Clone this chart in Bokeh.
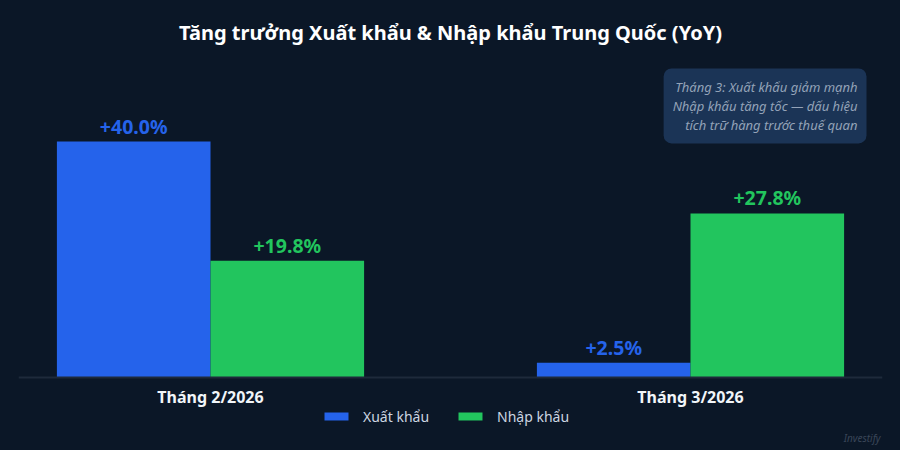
from bokeh.plotting import figure
from bokeh.models import (ColumnDataSource, Range1d, FixedTicker, Label, Legend, LegendItem)
from bokeh.core.properties import value
from bokeh.embed import file_html
from bokeh.resources import INLINE

categories = ["Tháng 2/2026", "Tháng 3/2026"]
xuat_khau = [40.0, 2.5]
nhap_khau = [19.8, 27.8]
series_names = ["Xuất khẩu", "Nhập khẩu"]
title_text = "Tăng trưởng Xuất khẩu & Nhập khẩu Trung Quốc (YoY)"
note_text = "Tháng 3: Xuất khẩu giảm mạnh\nNhập khẩu tăng tốc — dấu hiệu\ntích trữ hàng trước thuế quan"
watermark = "Investify"

BG = "#0b1727"
BLUE = "#2563eb"
GREEN = "#22c55e"
FONT = "Noto Sans"
BAR_W = 0.32

xs = list(range(len(categories)))

def fmt(v):
    return f"+{v:.1f}%"

src_x = ColumnDataSource(dict(x=[i - BAR_W / 2 for i in xs], top=xuat_khau,
                              lbl=[fmt(v) for v in xuat_khau]))
src_n = ColumnDataSource(dict(x=[i + BAR_W / 2 for i in xs], top=nhap_khau,
                              lbl=[fmt(v) for v in nhap_khau]))

p = figure(width=900, height=450, output_backend="svg", toolbar_location=None,
           x_range=Range1d(-0.4, 1.4), y_range=Range1d(-12.37, 54.07),
           background_fill_color=None, border_fill_color=None,
           min_border_left=18, min_border_right=18, min_border_top=58, min_border_bottom=0,
           outline_line_color=None)
p.outline_line_alpha = 0

p.title.text = title_text
p.title.align = "center"
p.title.text_color = "#ffffff"
p.title.text_font = FONT
p.title.text_font_size = "20px"
p.title.text_font_style = "bold"
p.title.standoff = 25

r1 = p.vbar(x="x", top="top", width=BAR_W, source=src_x, color=BLUE, line_color=None)
r2 = p.vbar(x="x", top="top", width=BAR_W, source=src_n, color=GREEN, line_color=None)

p.text(x="x", y="top", text="lbl", source=src_x, text_color=BLUE,
       text_font=value(FONT), text_font_size="19.5px", text_font_style="bold",
       text_align="center", text_baseline="bottom", y_offset=-2)
p.text(x="x", y="top", text="lbl", source=src_n, text_color=GREEN,
       text_font=value(FONT), text_font_size="19.5px", text_font_style="bold",
       text_align="center", text_baseline="bottom", y_offset=-2)

p.yaxis.visible = False
p.grid.visible = False
p.xaxis.fixed_location = 0
p.xaxis.ticker = FixedTicker(ticks=xs)
p.xaxis.major_label_overrides = {i: c for i, c in zip(xs, categories)}
p.xaxis.major_tick_line_color = None
p.xaxis.minor_tick_line_color = None
p.xaxis.axis_line_color = "#1e2a3b"
p.xaxis.axis_line_width = 2
p.xaxis.major_label_text_color = "#f1f5f9"
p.xaxis.major_label_text_font = FONT
p.xaxis.major_label_text_font_size = "16px"
p.xaxis.major_label_text_font_style = "bold"
p.xaxis.major_label_standoff = 2

legend = Legend(items=[LegendItem(label=series_names[0], renderers=[r1]),
                       LegendItem(label=series_names[1], renderers=[r2])],
                orientation="horizontal", location=(303, 24),
                background_fill_alpha=0, border_line_color=None,
                label_text_color="#cbd5e1", label_text_font=FONT, label_text_font_size="14px",
                glyph_width=30, glyph_height=10, spacing=26, padding=0, margin=0,
                label_standoff=12, label_height=20)
p.add_layout(legend, "center")

note = Label(x=848, y=382, x_units="screen", y_units="screen", text=note_text,
             text_align="right", text_baseline="top", text_color="#94a3b8",
             text_font=FONT, text_font_size="13px", text_font_style="italic",
             text_line_height=1.08,
             background_fill_color="#1e3a5f", background_fill_alpha=0.85,
             border_line_color=None, padding=9, border_radius=8)
p.add_layout(note)

wm = Label(x=862, y=13, x_units="screen", y_units="screen", text=watermark,
           text_align="right", text_baseline="middle", text_color="#3a4658",
           text_font=FONT, text_font_size="10px", text_font_style="italic")
p.add_layout(wm)

html = file_html(p, INLINE)
html = html.replace("</head>", "<style>html,body{background-color:%s;}</style></head>" % BG, 1)
open("out.html", "w").write(html)
